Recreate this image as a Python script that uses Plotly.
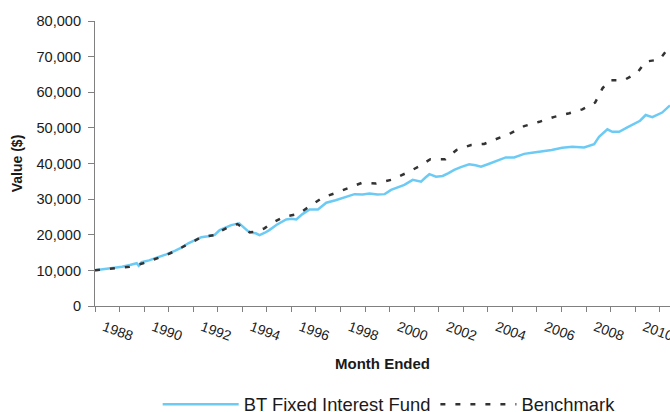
import plotly.graph_objects as go

# ---- data ----
fund_name = "BT Fixed Interest Fund"
bench_name = "Benchmark"

fund_years = [1988.0, 1988.4, 1988.74, 1989.1, 1989.42, 1989.7, 1989.78, 1989.9, 1990.2, 1990.57,
              1990.9, 1991.25, 1991.5, 1991.8, 1992.05, 1992.33, 1992.6, 1992.88, 1993.08, 1993.3,
              1993.55, 1993.87, 1994.1, 1994.3, 1994.55, 1994.7, 1994.9, 1995.1, 1995.4, 1995.79,
              1996.0, 1996.2, 1996.45, 1996.74, 1997.08, 1997.42, 1997.8, 1998.1, 1998.37, 1998.57,
              1998.9, 1999.18, 1999.5, 1999.8, 2000.06, 2000.3, 2000.6, 2000.94, 2001.28, 2001.45,
              2001.62, 2001.89, 2002.16, 2002.4, 2002.63, 2002.9, 2003.24, 2003.5, 2003.72, 2004.0,
              2004.26, 2004.5, 2004.73, 2005.07, 2005.48, 2005.8, 2006.16, 2006.6, 2007.03, 2007.44,
              2007.92, 2008.2, 2008.33, 2008.53, 2008.7, 2008.87, 2009.07, 2009.35, 2009.7, 2010.02,
              2010.2, 2010.43, 2010.7, 2011.1, 2011.42]
fund_values = [10000, 10300, 10600, 11000, 11500, 12000, 11300, 12300, 12800, 13600,
               14500, 15500, 16300, 17600, 18300, 19300, 19600, 20000, 21300, 22000,
               22700, 23200, 21800, 20600, 20400, 19900, 20500, 21300, 22800, 24300,
               24500, 24300, 25800, 27100, 27100, 29000, 29700, 30300, 30900, 31400,
               31300, 31600, 31300, 31400, 32600, 33300, 34000, 35400, 34900, 36000,
               37000, 36300, 36500, 37300, 38200, 39000, 39800, 39500, 39100, 39800,
               40500, 41100, 41700, 41700, 42700, 43000, 43300, 43800, 44400, 44700,
               44500, 45000, 45400, 47500, 48500, 49600, 48900, 48900, 50200, 51300,
               52000, 53600, 53000, 54300, 56300]

bench_years = [1988.0, 1988.5, 1988.9, 1989.4, 1989.96, 1990.57, 1990.9, 1991.25, 1991.8, 1992.33,
               1992.88, 1993.1, 1993.49, 1993.8, 1994.06, 1994.3, 1994.57, 1994.9, 1995.18, 1995.73,
               1996.27, 1996.8, 1997.29, 1997.83, 1998.37, 1998.88, 1999.45, 2000.06, 2000.64, 2001.18,
               2001.66, 2002.27, 2002.73, 2003.32, 2003.85, 2004.33, 2004.94, 2005.48, 2006.1, 2006.71,
               2007.32, 2007.85, 2008.37, 2008.67, 2008.97, 2009.55, 2010.09, 2010.43, 2011.0, 2011.42]
bench_values = [10000, 10300, 10600, 11000, 12000, 13400, 14300, 15400, 17400, 19300,
                19900, 21000, 22300, 23000, 21800, 20700, 20900, 21800, 23200, 25100,
                25800, 28300, 30500, 31800, 33300, 34600, 34400, 35400, 37200, 39100,
                41200, 41200, 43800, 45200, 45500, 46800, 48500, 50500, 51700, 53100,
                54100, 55200, 57100, 61100, 63400, 63400, 65500, 68600, 69200, 73000]

tick_years = list(range(1988, 2012))
tick_labels = [str(y) if y % 2 == 0 else "" for y in tick_years]
y_ticks = [0, 10000, 20000, 30000, 40000, 50000, 60000, 70000, 80000]

FONT = "Arial, Liberation Sans, sans-serif"

fig = go.Figure()
fig.add_trace(go.Scatter(x=fund_years, y=fund_values, mode="lines", name=fund_name,
                         line=dict(color="#6CCBF5", width=2.5)))
fig.add_trace(go.Scatter(x=bench_years, y=bench_values, mode="lines", name=bench_name,
                         line=dict(color="#333333", width=2.5, dash="5px,10px")))

fig.update_layout(
    width=670, height=412,
    margin=dict(l=95, r=0, t=21, b=106, autoexpand=False),
    plot_bgcolor="white", paper_bgcolor="white",
    font=dict(family=FONT, color="#1a1a1a"),
    showlegend=True,
    legend=dict(orientation="h", x=0.109, xanchor="left", y=-0.345, yanchor="middle",
                font=dict(size=18.4, family=FONT, color="#1a1a1a"), itemwidth=76,
                bgcolor="rgba(0,0,0,0)"),
)
fig.update_xaxes(
    range=[1988, 2011.42], tickmode="array", tickvals=tick_years, ticktext=tick_labels,
    tickangle=20, ticks="outside", ticklen=5, tickcolor="#808080", automargin=False,
    ticklabelshift=9, ticklabeloverflow="allow", ticklabelstandoff=2,
    showline=True, linecolor="#808080", linewidth=1, showgrid=False, zeroline=False,
    tickfont=dict(size=14, family=FONT),
    title=dict(text="<b>Month Ended</b>", font=dict(size=15, family=FONT)),
)
fig.update_yaxes(
    range=[0, 80000], tickmode="array", tickvals=y_ticks, tickformat=",",
    ticks="outside", ticklen=6, tickcolor="#808080", automargin=False,
    ticklabelstandoff=4,
    showline=True, linecolor="#808080", linewidth=1, showgrid=False, zeroline=False,
    tickfont=dict(size=14.6, family=FONT),
    title=dict(text="<b>Value ($)</b>", font=dict(size=14, family=FONT), standoff=10),
)

fig.write_html("out.html", config={"displayModeBar": False},
               post_script="document.body.style.margin='0';document.body.style.overflow='hidden';")
